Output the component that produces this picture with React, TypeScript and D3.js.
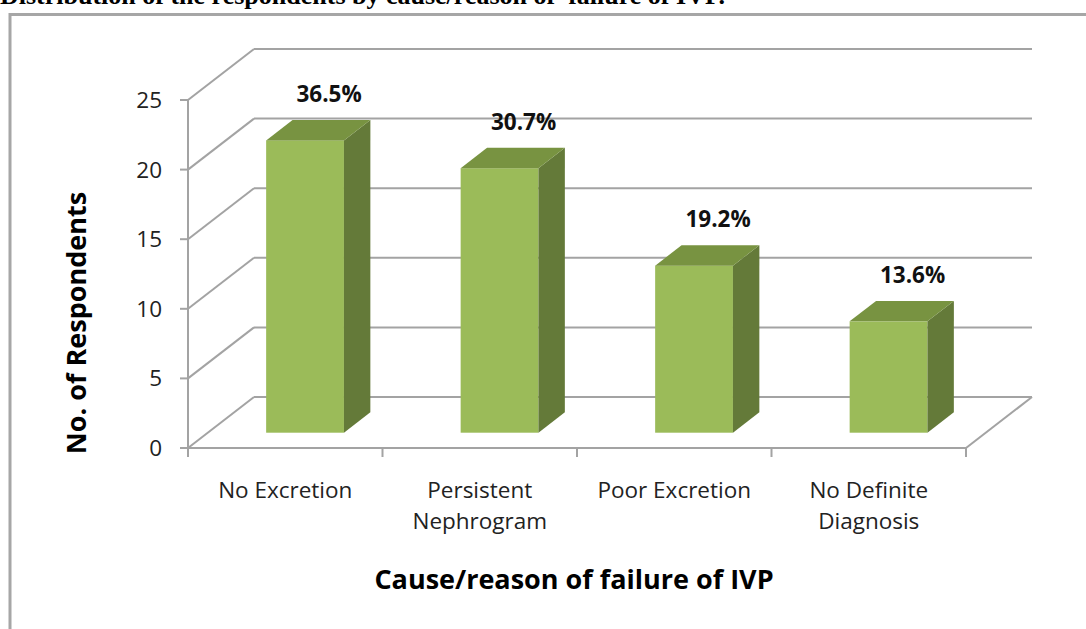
import React from "react";
import * as d3 from "d3";

const categories = ["No Excretion", "Persistent Nephrogram", "Poor Excretion", "No Definite Diagnosis"];
const categoryLines = [["No Excretion"], ["Persistent", "Nephrogram"], ["Poor Excretion"], ["No Definite", "Diagnosis"]];
const values = [21, 19, 12, 8];
const percentLabels = ["36.5%", "30.7%", "19.2%", "13.6%"];
const yTicks = [0, 5, 10, 15, 20, 25];
const title = "Distribution of the respondents by cause/reason of  failure of IVP.";
const yTitle = "No. of Respondents";
const xTitle = "Cause/reason of failure of IVP";

const W = 1086;
const H = 629;
const FONT = "'Open Sans', 'Noto Sans', sans-serif";

export default function App() {
  const x0 = 188, x1 = 966;
  const yBottom = 448, yTop = 100;
  const depthX = 66, depthY = 51;
  const f0 = 0.3, f1 = 0.7;

  const y = d3.scaleLinear().domain([0, 25]).range([yBottom, yTop]);
  const x = d3.scaleBand<string>().domain(categories).range([x0, x1]).paddingInner(0.6).paddingOuter(0.3);
  const step = x.step();
  const bw = x.bandwidth();
  const bdx = (f1 - f0) * depthX;
  const bdy = (f1 - f0) * depthY;
  const grid = "#A3A3A3";

  const boundaries = d3.range(categories.length + 1).map((i) => x0 + i * step);

  return (
    <svg width={W} height={H} style={{ position: "absolute", left: 0, top: 0 }}>
      <rect x={0} y={0} width={W} height={H} fill="#fff" />
      <text x={0} y={4} fontFamily="'Liberation Serif', 'Times New Roman', serif" fontWeight="bold" fontSize={26} fill="#000" style={{ whiteSpace: "pre" }}>
        {title}
      </text>
      <rect x={10} y={14.5} width={W + 20} height={H + 20} fill="none" stroke="#A6A6A6" strokeWidth={3} />

      {/* back wall gridlines and side diagonals */}
      {yTicks.map((t) => (
        <g key={"g" + t}>
          <line x1={x0} y1={y(t)} x2={x0 + depthX} y2={y(t) - depthY} stroke={grid} strokeWidth={2} />
          <line x1={x0 + depthX} y1={y(t) - depthY} x2={x1 + depthX} y2={y(t) - depthY} stroke={grid} strokeWidth={2} />
          <line x1={x0 - 8} y1={y(t)} x2={x0} y2={y(t)} stroke={grid} strokeWidth={2} />
        </g>
      ))}
      {/* floor */}
      <line x1={x0} y1={yBottom} x2={x1} y2={yBottom} stroke={grid} strokeWidth={2} />
      <line x1={x1} y1={yBottom} x2={x1 + depthX} y2={yBottom - depthY} stroke={grid} strokeWidth={2} />
      <line x1={x0} y1={yTop} x2={x0} y2={yBottom} stroke={grid} strokeWidth={2} />
      {boundaries.map((b, i) => (
        <line key={"xt" + i} x1={b} y1={yBottom} x2={b} y2={yBottom + 9} stroke={grid} strokeWidth={2} />
      ))}

      {/* bars */}
      {categories.map((c, i) => {
        const left = (x(c) as number) + f0 * depthX;
        const right = left + bw;
        const bottom = y(0) - f0 * depthY;
        const top = y(values[i]) - f0 * depthY;
        const topFace = `M${left},${top}L${right},${top}L${right + bdx},${top - bdy}L${left + bdx},${top - bdy}Z`;
        const sideFace = `M${right},${top}L${right + bdx},${top - bdy}L${right + bdx},${bottom - bdy}L${right},${bottom}Z`;
        return (
          <g key={c}>
            <rect x={left} y={top} width={bw} height={bottom - top} fill="#9BBB59" />
            <path d={sideFace} fill="#647A39" />
            <path d={topFace} fill="#789341" />
            <text x={left + bw / 2 + 24} y={top - bdy - 18} textAnchor="middle" fontFamily={FONT} fontWeight="bold" fontSize={22.5} fill="#111">
              {percentLabels[i]}
            </text>
          </g>
        );
      })}

      {/* y tick labels */}
      {yTicks.map((t) => (
        <text key={"yl" + t} x={162} y={y(t) + 8} textAnchor="end" fontFamily={FONT} fontSize={22.5} fill="#222">
          {t}
        </text>
      ))}

      {/* category labels */}
      {categories.map((c, i) => (
        <text key={"cl" + i} x={(x(c) as number) + bw / 2} y={498} textAnchor="middle" fontFamily={FONT} fontSize={22.5} fill="#222">
          {categoryLines[i].map((ln, j) => (
            <tspan key={j} x={(x(c) as number) + bw / 2} dy={j === 0 ? 0 : 31}>
              {ln}
            </tspan>
          ))}
        </text>
      ))}

      <text x={574} y={589} textAnchor="middle" fontFamily={FONT} fontWeight="bold" fontSize={27} fill="#000">
        {xTitle}
      </text>
      <text transform="translate(86,323) rotate(-90)" textAnchor="middle" fontFamily={FONT} fontWeight="bold" fontSize={27} fill="#000">
        {yTitle}
      </text>
    </svg>
  );
}
